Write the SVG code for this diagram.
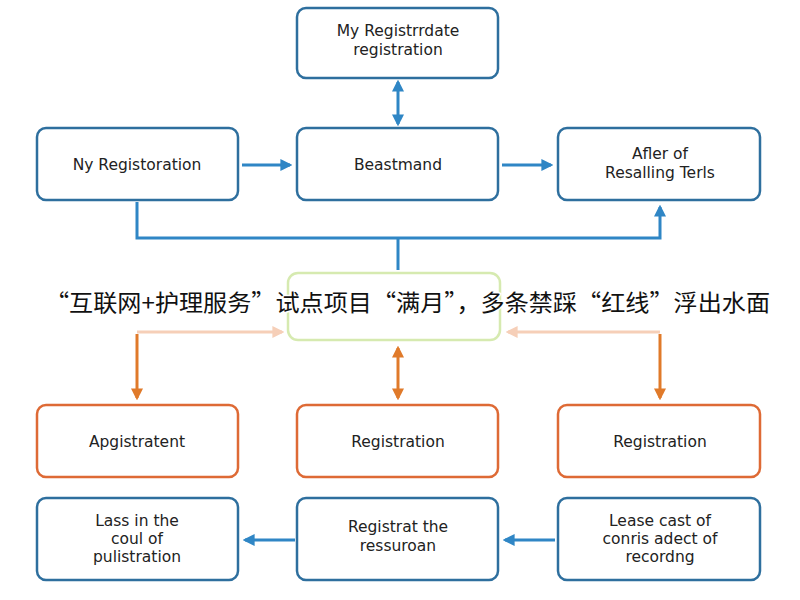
<svg xmlns="http://www.w3.org/2000/svg" width="800" height="600" viewBox="0 0 800 600">
<style>
.b{fill:#fff;stroke:#2e6f9e;stroke-width:2.5}
.o{fill:#fff;stroke:#de6a35;stroke-width:2.5}
.t{font-family:"DejaVu Sans","Liberation Sans",sans-serif;font-size:15.5px;fill:#222;text-anchor:middle}
.cb{stroke:#2f86c5;stroke-width:3;fill:none}
.co{stroke:#e07a2a;stroke-width:3;fill:none}
.cp{stroke:#f6cfb8;stroke-width:3;fill:none}
</style>
<defs>
<marker id="ab" viewBox="0 0 10 10" refX="8" refY="5" markerWidth="4" markerHeight="4" orient="auto-start-reverse"><path d="M0,0L10,5L0,10z" fill="#2f86c5"/></marker>
<marker id="ao" viewBox="0 0 10 10" refX="8" refY="5" markerWidth="4" markerHeight="4" orient="auto-start-reverse"><path d="M0,0L10,5L0,10z" fill="#e07a2a"/></marker>
<marker id="ap" viewBox="0 0 10 10" refX="8" refY="5" markerWidth="4" markerHeight="4" orient="auto-start-reverse"><path d="M0,0L10,5L0,10z" fill="#f6cfb8"/></marker>
</defs>
<rect width="800" height="600" fill="#fff"/>
<g id="connectors">
<line class="cb" x1="398" y1="82" x2="398" y2="124" marker-start="url(#ab)" marker-end="url(#ab)"/>
<line class="cb" x1="242" y1="165" x2="290" y2="165" marker-end="url(#ab)"/>
<line class="cb" x1="502" y1="165" x2="551" y2="165" marker-end="url(#ab)"/>
<path class="cb" d="M137,202V238H660V207" marker-end="url(#ab)"/>
<line class="cb" x1="398" y1="238" x2="398" y2="270"/>
<path class="cp" d="M137,332H282" marker-end="url(#ap)"/>
<path class="cp" d="M660,332H508" marker-end="url(#ap)"/>
<line class="co" x1="137" y1="334" x2="137" y2="398" marker-end="url(#ao)"/>
<line class="co" x1="660" y1="334" x2="660" y2="398" marker-end="url(#ao)"/>
<line class="co" x1="398" y1="348" x2="398" y2="398" marker-start="url(#ao)" marker-end="url(#ao)"/>
<line class="cb" x1="555" y1="540" x2="505" y2="540" marker-end="url(#ab)"/>
<line class="cb" x1="295" y1="540" x2="245" y2="540" marker-end="url(#ab)"/>
</g>
<g id="top"><rect class="b" x="297" y="8" width="201" height="70" rx="9"/><text class="t" x="398" y="36">My Registrrdate</text><text class="t" x="398" y="55">registration</text></g>
<g id="n1"><rect class="b" x="37" y="128" width="201" height="72" rx="9"/><text class="t" x="137" y="170">Ny Registoration</text></g>
<g id="n2"><rect class="b" x="297" y="128" width="201" height="72" rx="9"/><text class="t" x="398" y="170">Beastmand</text></g>
<g id="n3"><rect class="b" x="558" y="128" width="202" height="72" rx="9"/><text class="t" x="660" y="159">Afler of</text><text class="t" x="660" y="178">Resalling Terls</text></g>
<g id="center"><rect x="288" y="273" width="212" height="67" rx="10" fill="#fff" stroke="#d6eab0" stroke-width="2.5"/></g>
<g id="o1"><rect class="o" x="37" y="405" width="201" height="72" rx="9"/><text class="t" x="137" y="447">Apgistratent</text></g>
<g id="o2"><rect class="o" x="297" y="405" width="201" height="72" rx="9"/><text class="t" x="398" y="447">Registration</text></g>
<g id="o3"><rect class="o" x="558" y="405" width="202" height="72" rx="9"/><text class="t" x="660" y="447">Registration</text></g>
<g id="b1"><rect class="b" x="37" y="498" width="201" height="82" rx="9"/><text class="t" x="137" y="526">Lass in the</text><text class="t" x="137" y="544">coul of</text><text class="t" x="137" y="562">pulistration</text></g>
<g id="b2"><rect class="b" x="297" y="498" width="201" height="82" rx="9"/><text class="t" x="398" y="532">Registrat the</text><text class="t" x="398" y="551">ressuroan</text></g>
<g id="b3"><rect class="b" x="558" y="498" width="202" height="82" rx="9"/><text class="t" x="660" y="526">Lease cast of</text><text class="t" x="660" y="544">conris adect of</text><text class="t" x="660" y="562">recordng</text></g>
<text x="45" y="311" textLength="725" lengthAdjust="spacingAndGlyphs" font-family="'Noto Sans CJK SC',sans-serif" font-size="23" fill="#111" stroke="#fff" stroke-width="3" paint-order="stroke">“互联网+护理服务”试点项目“满月”，多条禁踩“红线”浮出水面</text>
</svg>
